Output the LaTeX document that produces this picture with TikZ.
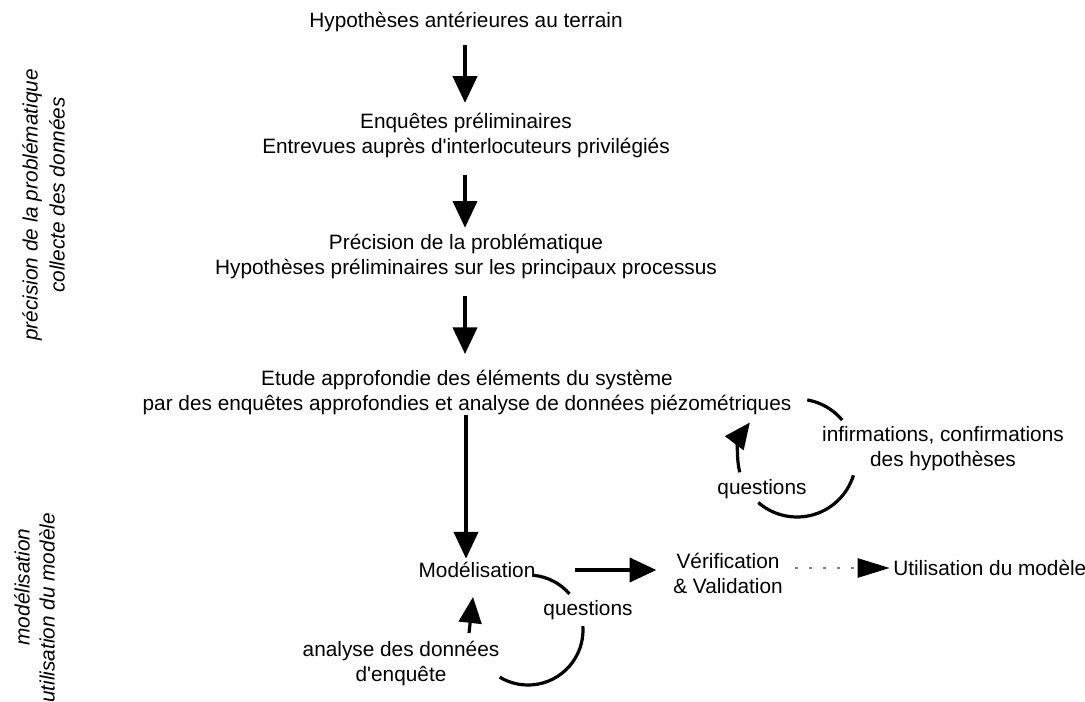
\documentclass[tikz,border=0pt]{standalone}
\usepackage{fontspec}
\setmainfont{Liberation Sans}
\usetikzlibrary{arrows.meta}
\begin{document}
\begin{tikzpicture}[x=0.75pt,y=-0.75pt,
  txt/.style={inner sep=0pt, align=center, font=\fontsize{15.6pt}{18.75pt}\selectfont},
  side/.style={inner sep=0pt, align=center, font=\fontsize{15.6pt}{18.75pt}\selectfont\itshape, rotate=90},
  arr/.style={line width=2.8pt, -{Triangle[length=20pt,width=18pt]}},
  looparc/.style={line width=2.4pt},
  looparr/.style={line width=2.4pt, -{Triangle[length=19.5pt,width=17pt]}},
  dashline/.style={line width=1.1pt, gray, dash pattern=on 2.5pt off 8pt, -{Triangle[length=24pt,width=14.5pt,color=black]}}
]
\useasboundingbox (0,0) rectangle (1085,702);

% main chain
\node[txt] (T1) at (466,22) {Hypothèses antérieures au terrain};
\node[txt] (T2) at (466,135.5) {Enquêtes préliminaires\\Entrevues auprès d\textquotesingle interlocuteurs privilégiés};
\node[txt] (T3) at (466,257) {Précision de la problématique\\Hypothèses préliminaires sur les principaux processus};
\node[txt] (T4) at (467,392) {Etude approfondie des éléments du système\\par des enquêtes approfondies et analyse de données piézométriques};
\node[txt] (M) at (477,570) {Modélisation};
\node[txt] (V) at (728,573) {Vérification\\\& Validation};
\node[txt,anchor=west] (U) at (893,568) {Utilisation du modèle};

% loop labels
\node[txt] (Q1) at (762,489) {questions};
\node[txt] (I) at (943,449) {infirmations, confirmations\\des hypothèses};
\node[txt] (Q2) at (588,610) {questions};
\node[txt] (An) at (401,663) {analyse des données\\d\textquotesingle enquête};

% side labels
\node[side] (S1) at (32,205) {précision de la problématique};
\node[side] (S2) at (57,195) {collecte des données};
\node[side] (S3) at (22,587) {modélisation};
\node[side] (S4) at (47,608) {utilisation du modèle};

% vertical arrows
\draw[arr, shorten <=9.5pt, shorten >=7.5pt] (T1.south -| 465,0) -- (T2.north -| 465,0);
\draw[arr, shorten <=12.5pt, shorten >=5pt] (T2.south -| 465,0) -- (T3.north -| 465,0);
\draw[arr, shorten <=12.5pt, shorten >=11.5pt] (T3.south -| 465,0) -- (T4.north -| 465,0);
\draw[arr, shorten <=0pt, shorten >=2.5pt] (T4.south -| 466,0) -- (M.north -| 466,0);

% horizontal arrows
\draw[arr, shorten <=29.5pt, shorten >=12.5pt] (M.east) -- (M.east -| V.west);
\draw[dashline, shorten <=9pt, shorten >=2.5pt] (U.west -| V.east) -- (U.west);

% right loop
\coordinate (C1) at (797,458);
\draw[looparc] ([shift={(-80:59)}]C1) arc[start angle=-80, end angle=-40, radius=59];
\draw[looparc] ([shift={(17:59)}]C1) arc[start angle=17, end angle=131, radius=59];
\draw[looparr] ([shift={(166:59)}]C1) arc[start angle=166, end angle=217, radius=59];

% bottom loop
\coordinate (C2) at (528,630);
\draw[looparc] ([shift={(-84:55)}]C2) arc[start angle=-84, end angle=-41, radius=55];
\draw[looparc] ([shift={(-4:55)}]C2) arc[start angle=-4, end angle=121, radius=55];
\coordinate (ua) at (469,633);
\coordinate (ub) at (473,597);
\draw[looparr] (ua) -- (ub);
\end{tikzpicture}
\end{document}
